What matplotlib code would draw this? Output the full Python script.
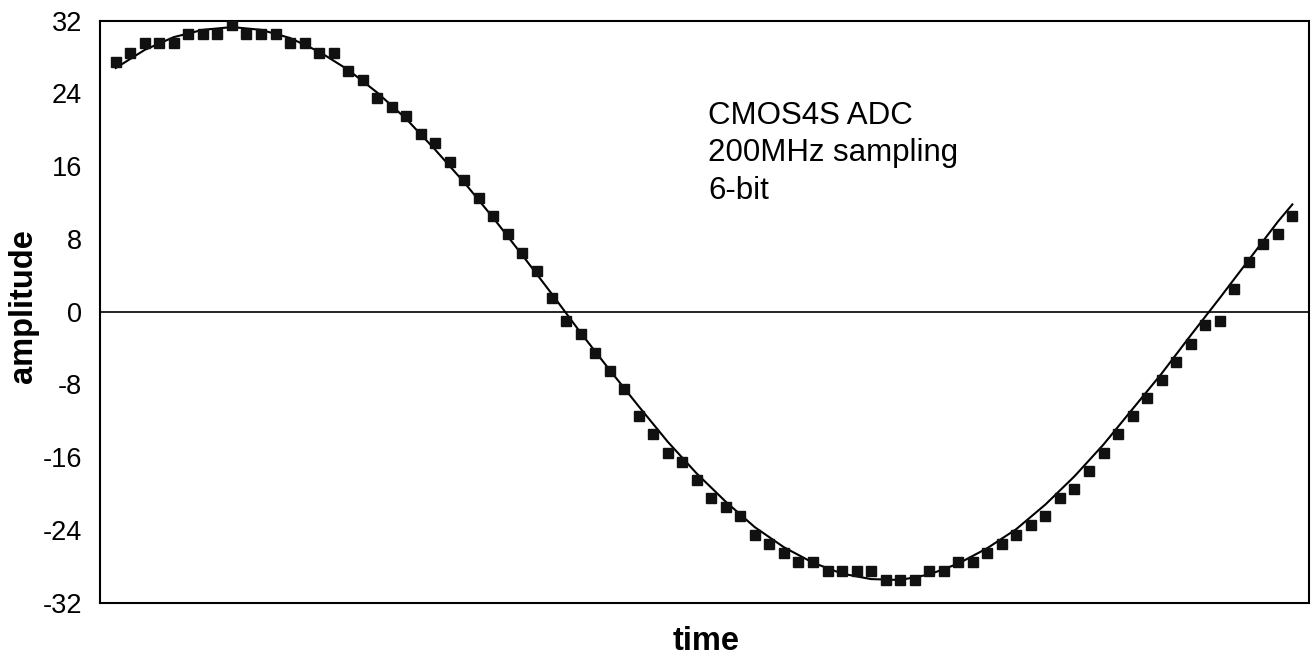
import matplotlib
matplotlib.use("Agg")
import matplotlib.pyplot as plt
import numpy as np

plt.rcParams['font.family'] = ['Liberation Sans', 'DejaVu Sans']
plt.rcParams['axes.unicode_minus'] = False

# ADC output codes, one per sample
samples = [27.5, 28.5, 29.5, 29.5, 29.5, 30.5, 30.5, 30.5, 31.5, 30.5,
           30.5, 30.5, 29.5, 29.5, 28.5, 28.5, 26.5, 25.5, 23.5, 22.5,
           21.5, 19.5, 18.5, 16.5, 14.5, 12.5, 10.5, 8.5, 6.5, 4.5,
           1.5, -1.0, -2.5, -4.5, -6.5, -8.5, -11.5, -13.5, -15.5, -16.5,
           -18.5, -20.5, -21.5, -22.5, -24.5, -25.5, -26.5, -27.5, -27.5, -28.5,
           -28.5, -28.5, -28.5, -29.5, -29.5, -29.5, -28.5, -28.5, -27.5, -27.5,
           -26.5, -25.5, -24.5, -23.5, -22.5, -20.5, -19.5, -17.5, -15.5, -13.5,
           -11.5, -9.5, -7.5, -5.5, -3.5, -1.5, -1.0, 2.5, 5.5, 7.5,
           8.5, 10.5]
t = np.arange(len(samples))

# fitted sine, read at every other sample
fit_t = np.r_[0:82:2, 81]
fit = [26.8, 28.8, 30.2, 31.0, 31.3, 31.0, 30.1, 28.6, 26.6, 24.1,
       21.2, 17.8, 14.2, 10.3, 6.2, 2.0, -2.3, -6.4, -10.4, -14.3,
       -17.8, -20.9, -23.7, -25.9, -27.6, -28.8, -29.4, -29.5, -28.9, -27.7,
       -26.0, -23.9, -21.2, -18.1, -14.6, -10.7, -6.8, -2.6, 1.5, 5.7,
       9.9, 11.8]

yticks = [-32, -24, -16, -8, 0, 8, 16, 24, 32]

fig = plt.figure(figsize=(13.13, 6.58), dpi=100)
ax = fig.add_axes([0.0762, 0.084, 0.9208, 0.8845])

ax.axhline(0, color="black", lw=1.2, zorder=1)
ax.plot(fit_t, fit, color="black", lw=1.5, solid_joinstyle="round", zorder=2)
ax.plot(t, samples, ls="none", marker="s", ms=7.8, color="#111111", zorder=3)

ax.set_xlim(-1.08, 82.15)
ax.set_ylim(-32, 32)
ax.set_xticks([])
ax.set_yticks(yticks)
ax.tick_params(axis="y", length=0, pad=13, labelsize=19.5)
for s in ax.spines.values():
    s.set_linewidth(1.5)

ax.set_ylabel("amplitude", fontsize=23.5, fontweight="bold", va="center")
ax.yaxis.set_label_coords(-0.0637, 0.51)
ax.set_xlabel("time", fontsize=23.5, fontweight="bold", va="center")
ax.xaxis.set_label_coords(0.5017, -0.0658)

ax.text(0.503, 0.862, "CMOS4S ADC\n200MHz sampling\n6-bit", transform=ax.transAxes,
        fontsize=22.5, ha="left", va="top", linespacing=1.32)

fig.savefig("out.png", dpi=100)
